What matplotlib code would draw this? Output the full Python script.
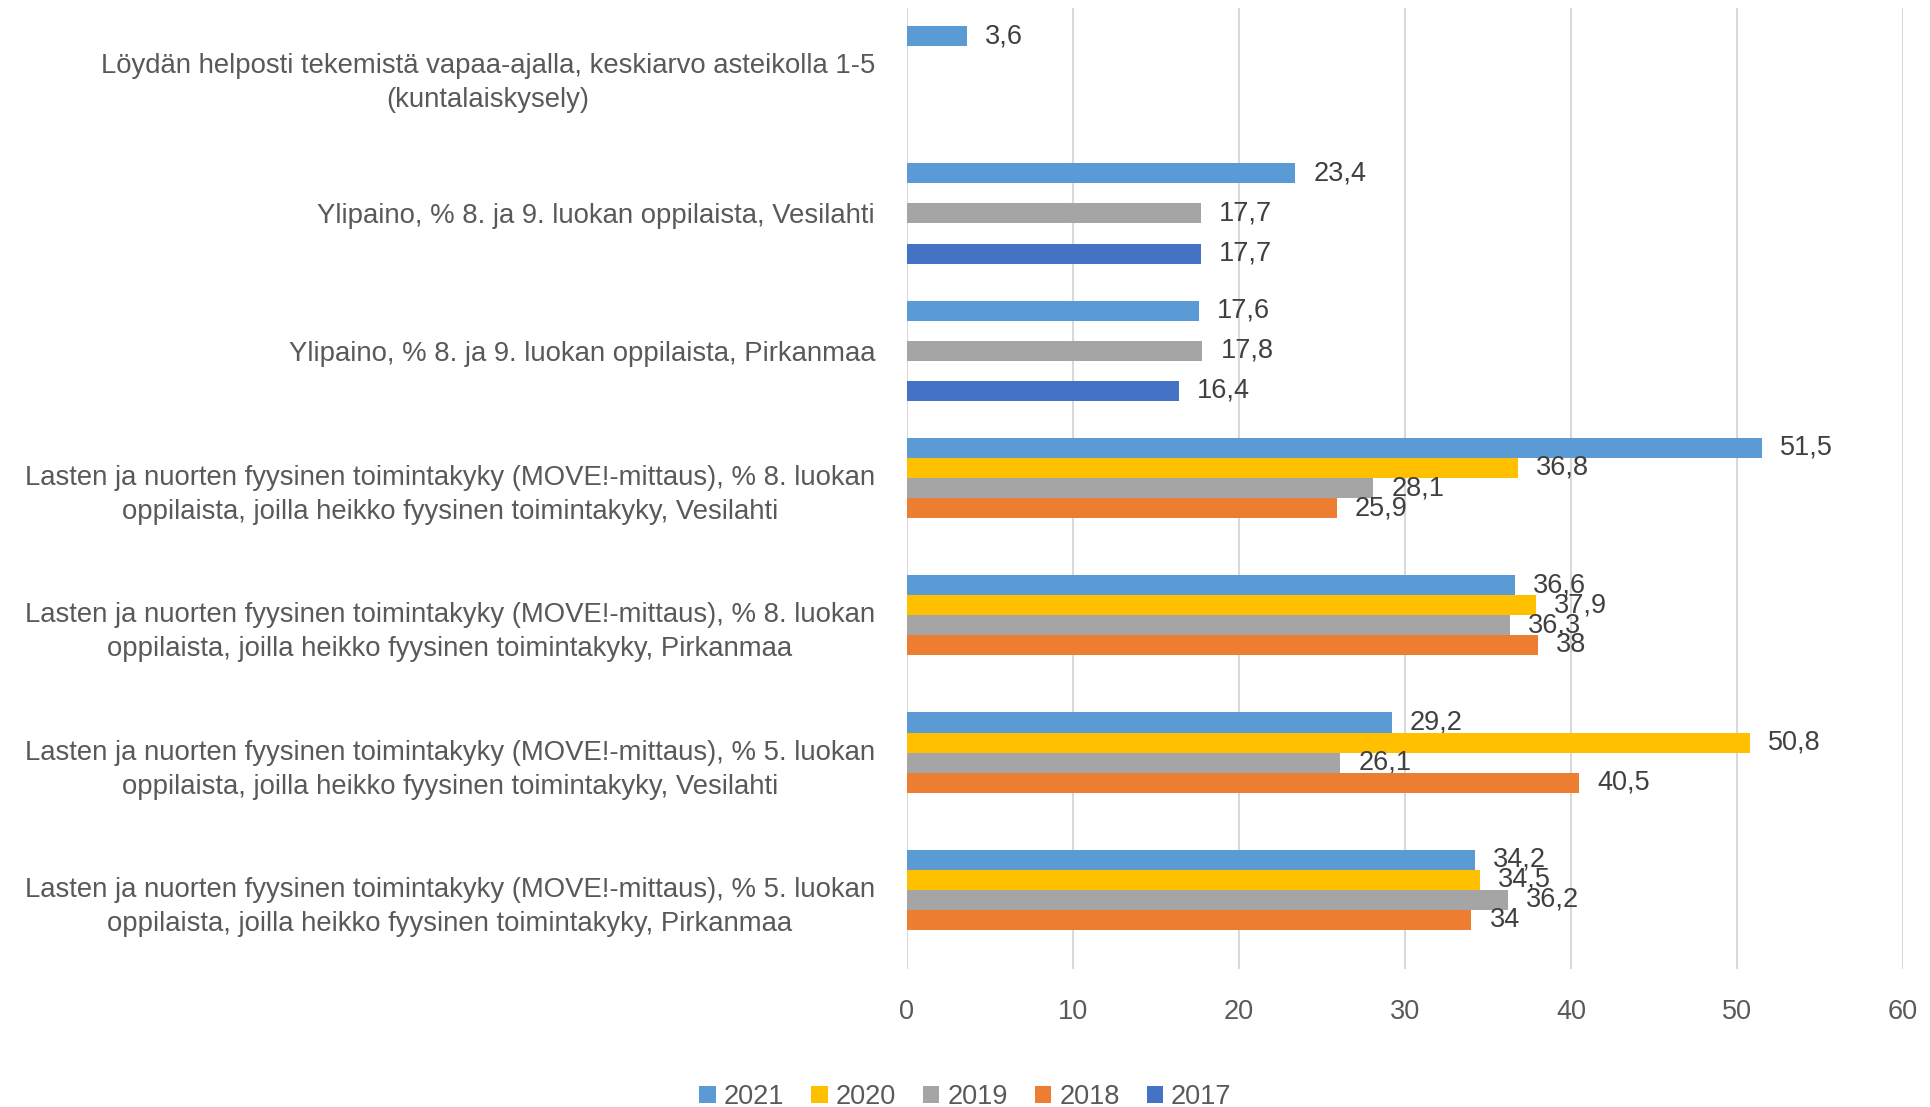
import numpy as np
import matplotlib
matplotlib.use("Agg")
import matplotlib.pyplot as plt

plt.rcParams['font.family'] = ['Liberation Sans', 'DejaVu Sans']

# categories, top to bottom
categories = [
    "Löydän helposti tekemistä vapaa-ajalla, keskiarvo asteikolla 1-5\n(kuntalaiskysely)",
    "Ylipaino, % 8. ja 9. luokan oppilaista, Vesilahti",
    "Ylipaino, % 8. ja 9. luokan oppilaista, Pirkanmaa",
    "Lasten ja nuorten fyysinen toimintakyky (MOVE!-mittaus), % 8. luokan\noppilaista, joilla heikko fyysinen toimintakyky, Vesilahti",
    "Lasten ja nuorten fyysinen toimintakyky (MOVE!-mittaus), % 8. luokan\noppilaista, joilla heikko fyysinen toimintakyky, Pirkanmaa",
    "Lasten ja nuorten fyysinen toimintakyky (MOVE!-mittaus), % 5. luokan\noppilaista, joilla heikko fyysinen toimintakyky, Vesilahti",
    "Lasten ja nuorten fyysinen toimintakyky (MOVE!-mittaus), % 5. luokan\noppilaista, joilla heikko fyysinen toimintakyky, Pirkanmaa",
]

years = ['2021', '2020', '2019', '2018', '2017']
v2021 = [3.6, 23.4, 17.6, 51.5, 36.6, 29.2, 34.2]
v2020 = [None, None, None, 36.8, 37.9, 50.8, 34.5]
v2019 = [None, 17.7, 17.8, 28.1, 36.3, 26.1, 36.2]
v2018 = [None, None, None, 25.9, 38, 40.5, 34]
v2017 = [None, 17.7, 16.4, None, None, None, None]
colors = ['#5B9BD5', '#FFC000', '#A5A5A5', '#ED7D31', '#4472C4']

series = [v2021, v2020, v2019, v2018, v2017]
fs = 19.5

fig = plt.figure(figsize=(19.31, 11.07), dpi=100)
ax = fig.add_axes([0.4697, 0.1251, 0.5158, 0.8681])

h = 20 / 137
pos = np.arange(len(categories))
for k, (vals, col, yr) in enumerate(zip(series, colors, years)):
    idx = [i for i, v in enumerate(vals) if v is not None]
    y = pos[idx] + (k - 2) * h
    w = [vals[i] for i in idx]
    bars = ax.barh(y, w, height=h, color=col, label=yr, zorder=3)
    labels = [f"{v:g}".replace('.', ',') for v in w]
    ax.bar_label(bars, labels=labels, padding=13, fontsize=fs, color='#404040')

ax.set_ylim(len(categories) - 0.5, -0.5)
ax.set_xlim(0, 60)
ax.set_xticks(range(0, 61, 10))
ax.set_yticks(pos)
ax.set_yticklabels(categories)
for t in ax.get_yticklabels():
    t.set_multialignment('center')
    t.set_linespacing(1.4)
ax.tick_params(axis='y', length=0, pad=23, labelsize=19.8, labelcolor='#595959')
ax.tick_params(axis='x', length=0, pad=22, labelsize=fs, labelcolor='#595959')
ax.grid(axis='x', color='#D9D9D9', linewidth=1.5, zorder=0)
for s in ax.spines.values():
    s.set_visible(False)

ax.legend(loc='center', bbox_to_anchor=(0.5, 0.009), bbox_transform=fig.transFigure,
          ncol=5, frameon=False, fontsize=fs, handlelength=0.6, handleheight=0.6,
          handletextpad=0.3, columnspacing=1.0, labelcolor='#595959')

fig.savefig('out.png', dpi=100)
